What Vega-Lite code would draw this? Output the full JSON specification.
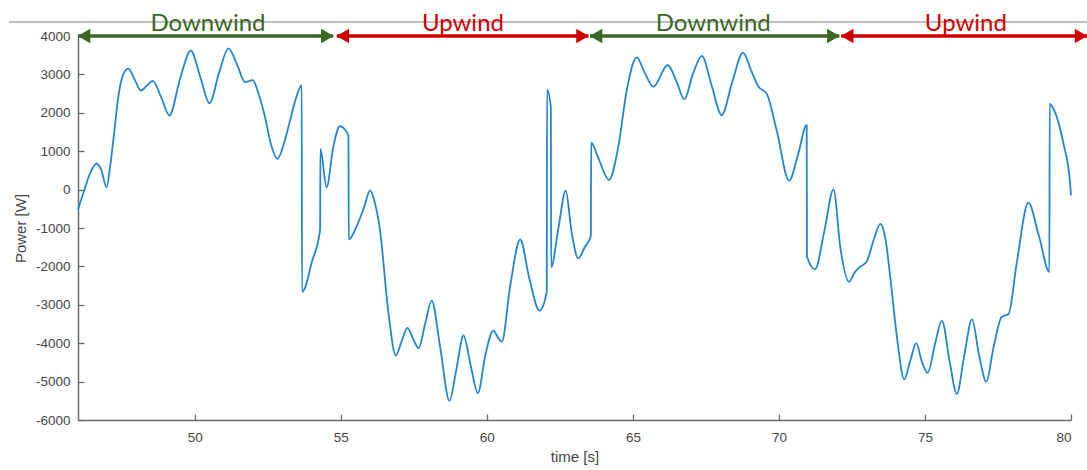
{
  "$schema": "https://vega.github.io/schema/vega-lite/v6.json",
  "width": 993,
  "height": 384,
  "autosize": "none",
  "padding": {"left": 78, "top": 36, "right": 16, "bottom": 50},
  "background": "white",
  "config": {
    "view": {"stroke": null},
    "axis": {
      "grid": false,
      "domainColor": "#6a6a6a",
      "domainWidth": 1.5,
      "tickColor": "#6a6a6a",
      "tickWidth": 1.3,
      "labelColor": "#454545",
      "titleColor": "#454545",
      "labelFont": "Liberation Sans",
      "titleFont": "Liberation Sans",
      "labelFontSize": 13.5,
      "titleFontSize": 15,
      "titleFontWeight": "normal",
      "labelOverlap": false
    }
  },
  "datasets": {
    "power": [
      {"t": 46.0, "p": -520}, {"t": 46.2, "p": -50}, {"t": 46.4, "p": 400}, {"t": 46.64, "p": 680},
      {"t": 46.8, "p": 500}, {"t": 46.98, "p": 60}, {"t": 47.1, "p": 600}, {"t": 47.21, "p": 1290},
      {"t": 47.38, "p": 2420}, {"t": 47.55, "p": 3000}, {"t": 47.72, "p": 3150}, {"t": 47.95, "p": 2850},
      {"t": 48.15, "p": 2580}, {"t": 48.35, "p": 2700}, {"t": 48.56, "p": 2830}, {"t": 48.85, "p": 2400},
      {"t": 49.13, "p": 1930}, {"t": 49.5, "p": 2900}, {"t": 49.86, "p": 3620}, {"t": 50.2, "p": 2900},
      {"t": 50.5, "p": 2250}, {"t": 50.85, "p": 3100}, {"t": 51.15, "p": 3680}, {"t": 51.45, "p": 3250},
      {"t": 51.72, "p": 2800}, {"t": 51.98, "p": 2850}, {"t": 52.2, "p": 2450}, {"t": 52.4, "p": 1900},
      {"t": 52.6, "p": 1200}, {"t": 52.83, "p": 800}, {"t": 53.05, "p": 1200}, {"t": 53.26, "p": 1800},
      {"t": 53.45, "p": 2350}, {"t": 53.66, "p": 2720}, {"t": 53.67, "p": -2660}, {"t": 53.75, "p": -2600},
      {"t": 54.0, "p": -1900}, {"t": 54.29, "p": -1050}, {"t": 54.3, "p": 1060}, {"t": 54.51, "p": 60},
      {"t": 54.75, "p": 1150}, {"t": 54.97, "p": 1650}, {"t": 55.15, "p": 1550}, {"t": 55.26, "p": 1390},
      {"t": 55.27, "p": -1300}, {"t": 55.54, "p": -960}, {"t": 55.8, "p": -450}, {"t": 56.0, "p": -20},
      {"t": 56.15, "p": -300}, {"t": 56.34, "p": -1050}, {"t": 56.63, "p": -3220}, {"t": 56.88, "p": -4320},
      {"t": 57.08, "p": -3950}, {"t": 57.28, "p": -3600}, {"t": 57.48, "p": -3900}, {"t": 57.66, "p": -4130},
      {"t": 57.9, "p": -3450}, {"t": 58.11, "p": -2890}, {"t": 58.4, "p": -4100}, {"t": 58.72, "p": -5500},
      {"t": 58.95, "p": -4700}, {"t": 59.2, "p": -3800}, {"t": 59.45, "p": -4600}, {"t": 59.69, "p": -5300},
      {"t": 59.95, "p": -4300}, {"t": 60.22, "p": -3670}, {"t": 60.38, "p": -3850}, {"t": 60.51, "p": -3960},
      {"t": 60.8, "p": -2500}, {"t": 61.14, "p": -1300}, {"t": 61.45, "p": -2300}, {"t": 61.8, "p": -3150},
      {"t": 62.05, "p": -2660}, {"t": 62.06, "p": 2600}, {"t": 62.19, "p": 2140}, {"t": 62.2, "p": -2020},
      {"t": 62.45, "p": -1000}, {"t": 62.7, "p": -30}, {"t": 62.9, "p": -1100}, {"t": 63.13, "p": -1790},
      {"t": 63.35, "p": -1500}, {"t": 63.56, "p": -1210}, {"t": 63.57, "p": 1220}, {"t": 63.82, "p": 815},
      {"t": 64.18, "p": 250}, {"t": 64.5, "p": 1120}, {"t": 64.79, "p": 2590}, {"t": 65.13, "p": 3445},
      {"t": 65.4, "p": 3050}, {"t": 65.7, "p": 2680}, {"t": 66.19, "p": 3245}, {"t": 66.5, "p": 2800},
      {"t": 66.76, "p": 2350}, {"t": 67.05, "p": 3000}, {"t": 67.36, "p": 3480}, {"t": 67.7, "p": 2700},
      {"t": 68.04, "p": 1940}, {"t": 68.4, "p": 2800}, {"t": 68.77, "p": 3565}, {"t": 69.05, "p": 3100},
      {"t": 69.3, "p": 2680}, {"t": 69.58, "p": 2500}, {"t": 69.92, "p": 1550}, {"t": 70.35, "p": 232},
      {"t": 70.65, "p": 900}, {"t": 70.95, "p": 1680}, {"t": 70.96, "p": -1750}, {"t": 71.24, "p": -2075},
      {"t": 71.55, "p": -1100}, {"t": 71.87, "p": 8}, {"t": 72.1, "p": -1500}, {"t": 72.4, "p": -2400},
      {"t": 72.6, "p": -2150}, {"t": 72.78, "p": -2010}, {"t": 73.0, "p": -1880}, {"t": 73.25, "p": -1300},
      {"t": 73.47, "p": -895}, {"t": 73.65, "p": -1300}, {"t": 73.81, "p": -2270}, {"t": 74.05, "p": -3900},
      {"t": 74.29, "p": -4940}, {"t": 74.5, "p": -4450}, {"t": 74.7, "p": -4000}, {"t": 74.9, "p": -4500},
      {"t": 75.09, "p": -4770}, {"t": 75.35, "p": -4000}, {"t": 75.58, "p": -3410}, {"t": 75.85, "p": -4500},
      {"t": 76.09, "p": -5320}, {"t": 76.35, "p": -4300}, {"t": 76.61, "p": -3380}, {"t": 76.85, "p": -4300},
      {"t": 77.1, "p": -5000}, {"t": 77.35, "p": -4100}, {"t": 77.63, "p": -3310}, {"t": 77.86, "p": -3240},
      {"t": 78.14, "p": -1920}, {"t": 78.54, "p": -340}, {"t": 78.9, "p": -1200}, {"t": 79.26, "p": -2140},
      {"t": 79.27, "p": 2230}, {"t": 79.39, "p": 2120}, {"t": 79.74, "p": 1205}, {"t": 79.97, "p": 164},
      {"t": 80.0, "p": -150}
    ],
    "segments": [
      {"start": 46.0, "end": 54.74, "mid": 50.45, "label": "Downwind"},
      {"start": 54.86, "end": 63.48, "mid": 59.18, "label": "Upwind"},
      {"start": 63.53, "end": 72.07, "mid": 67.75, "label": "Downwind"},
      {"start": 72.13, "end": 80.55, "mid": 76.4, "label": "Upwind"}
    ],
    "one": [{"k": 1}]
  },
  "encoding": {
    "x": {
      "type": "quantitative",
      "scale": {"domain": [46, 80], "nice": false, "zero": false},
      "axis": {"title": "time [s]", "values": [50, 55, 60, 65, 70, 75, 80], "tickSize": -6, "labelPadding": 16, "titlePadding": 6, "labelOverlap": false}
    },
    "y": {
      "type": "quantitative",
      "scale": {"domain": [-6000, 4000], "nice": false, "zero": false},
      "axis": {"title": "Power [W]", "values": [-6000, -5000, -4000, -3000, -2000, -1000, 0, 1000, 2000, 3000, 4000], "labelExpr": "toString(datum.value)", "tickSize": -6, "labelPadding": 14, "titlePadding": 7, "labelOverlap": false}
    }
  },
  "layer": [
    {
      "data": {"name": "power"},
      "mark": {"type": "line", "interpolate": "monotone", "color": "#2486cf", "strokeWidth": 1.8},
      "encoding": {
        "x": {"field": "t"},
        "y": {"field": "p"}
      }
    },
    {
      "data": {"name": "one"},
      "mark": {"type": "rule", "color": "#a8a8a8", "strokeWidth": 1.5},
      "encoding": {
        "x": {"datum": 43.64},
        "x2": {"datum": 80.6},
        "y": {"datum": 4365}
      }
    },
    {
      "data": {"name": "segments"},
      "mark": {"type": "rule", "strokeWidth": 3.5},
      "encoding": {
        "x": {"field": "start"},
        "x2": {"field": "end"},
        "y": {"datum": 4000},
        "color": {"field": "label", "type": "nominal", "scale": {"domain": ["Downwind", "Upwind"], "range": ["#3a6724", "#d00000"]}, "legend": null}
      }
    },
    {
      "data": {"name": "segments"},
      "mark": {"type": "point", "shape": "triangle-left", "filled": true, "size": 210, "opacity": 1, "xOffset": 6},
      "encoding": {
        "x": {"field": "start"},
        "y": {"datum": 4000},
        "color": {"field": "label", "type": "nominal", "legend": null}
      }
    },
    {
      "data": {"name": "segments"},
      "mark": {"type": "point", "shape": "triangle-right", "filled": true, "size": 210, "opacity": 1, "xOffset": -6},
      "encoding": {
        "x": {"field": "end"},
        "y": {"datum": 4000},
        "color": {"field": "label", "type": "nominal", "legend": null}
      }
    },
    {
      "data": {"name": "segments"},
      "mark": {"type": "text", "font": "Lato", "fontSize": 24, "baseline": "alphabetic", "align": "center", "dy": -5},
      "encoding": {
        "x": {"field": "mid"},
        "y": {"datum": 4000},
        "text": {"field": "label"},
        "color": {"field": "label", "type": "nominal", "legend": null}
      }
    }
  ]
}
